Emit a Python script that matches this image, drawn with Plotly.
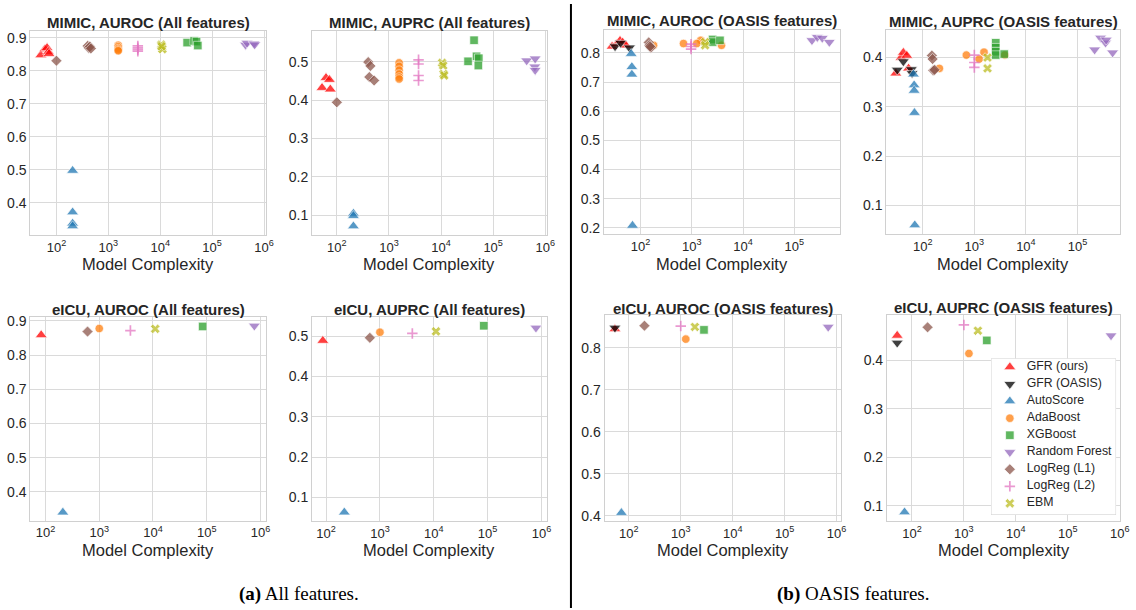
import plotly.graph_objects as go

W, H = 1136, 610

# ---------------- data ----------------
METHODS = ["GFR (ours)", "GFR (OASIS)", "AutoScore", "AdaBoost", "XGBoost",
           "Random Forest", "LogReg (L1)", "LogReg (L2)", "EBM"]
COLORS = ["#ff0000", "#000000", "#1f77b4", "#ff7f0e", "#2ca02c",
          "#9467bd", "#8c564b", "#e377c2", "#bcbd22"]
SYMBOLS = ["triangle-up", "triangle-down", "triangle-up", "circle", "square",
           "triangle-down", "diamond", "cross-thin", "x"]

X_TICKS = [1e2, 1e3, 1e4, 1e5, 1e6]
X_TICK_TEXT = ["10<sup>2</sup>", "10<sup>3</sup>", "10<sup>4</sup>",
               "10<sup>5</sup>", "10<sup>6</sup>"]

mimic_auroc_all = {
    "GFR (ours)": ([50, 60, 66, 70, 72], [0.848, 0.866, 0.870, 0.858, 0.852]),
    "AutoScore": ([205, 205, 205, 205], [0.498, 0.372, 0.338, 0.330]),
    "AdaBoost": ([1550, 1550, 1550, 1550, 1550], [0.878, 0.873, 0.868, 0.864, 0.861]),
    "XGBoost": ([33000, 45000, 50000, 53000], [0.886, 0.891, 0.889, 0.877]),
    "Random Forest": ([440000, 470000, 640000, 660000], [0.879, 0.885, 0.883, 0.880]),
    "LogReg (L1)": ([100, 400, 420, 440, 460], [0.831, 0.876, 0.870, 0.874, 0.868]),
    "LogReg (L2)": ([3700, 3700, 3700, 3700], [0.876, 0.870, 0.865, 0.860]),
    "EBM": ([10500, 10800, 11000, 10600], [0.880, 0.872, 0.866, 0.875]),
}
mimic_auprc_all = {
    "GFR (ours)": ([52, 62, 72, 75], [0.432, 0.458, 0.453, 0.428]),
    "AutoScore": ([208, 208, 208], [0.104, 0.098, 0.071]),
    "AdaBoost": ([1570] * 6, [0.497, 0.488, 0.478, 0.468, 0.460, 0.455]),
    "XGBoost": ([33000, 43000, 48000, 53000, 52000], [0.501, 0.556, 0.514, 0.509, 0.490]),
    "Random Forest": ([440000, 640000, 630000, 640000], [0.503, 0.508, 0.487, 0.478]),
    "LogReg (L1)": ([100, 400, 440, 420, 520], [0.394, 0.499, 0.489, 0.460, 0.451]),
    "LogReg (L2)": ([3700] * 4, [0.505, 0.494, 0.464, 0.451]),
    "EBM": ([10500, 11000, 11200, 11500], [0.497, 0.490, 0.468, 0.464]),
}
mimic_auroc_oasis = {
    "GFR (ours)": ([28, 34, 40, 45, 52], [0.822, 0.830, 0.842, 0.836, 0.826]),
    "GFR (OASIS)": ([32, 41, 61], [0.822, 0.834, 0.818]),
    "AutoScore": ([66, 68, 68, 70], [0.797, 0.752, 0.726, 0.208]),
    "AdaBoost": ([690, 1500, 1250, 3800, 180], [0.832, 0.843, 0.832, 0.826, 0.826]),
    "XGBoost": ([2550, 2550, 3550], [0.846, 0.837, 0.843]),
    "Random Forest": ([220000, 280000, 350000, 480000], [0.843, 0.854, 0.851, 0.837]),
    "LogReg (L1)": ([145, 150, 160, 155], [0.836, 0.826, 0.818, 0.822]),
    "LogReg (L2)": ([970, 970, 970], [0.830, 0.822, 0.813]),
    "EBM": ([1820, 1820], [0.837, 0.826]),
}
mimic_auprc_oasis = {
    "GFR (ours)": ([30, 38, 42, 49, 53], [0.368, 0.400, 0.410, 0.404, 0.378]),
    "GFR (OASIS)": ([32, 42, 60, 62], [0.375, 0.392, 0.376, 0.368]),
    "AutoScore": ([66, 68, 68, 69, 70], [0.366, 0.344, 0.333, 0.288, 0.060]),
    "AdaBoost": ([700, 1240, 1540, 3900, 210], [0.405, 0.397, 0.411, 0.405, 0.378]),
    "XGBoost": ([2600, 2600, 2600, 2600, 3800], [0.430, 0.420, 0.412, 0.405, 0.407]),
    "Random Forest": ([215000, 280000, 350000, 480000, 360000], [0.416, 0.440, 0.430, 0.410, 0.436]),
    "LogReg (L1)": ([150, 155, 160, 170], [0.404, 0.397, 0.374, 0.375]),
    "LogReg (L2)": ([1000, 1000, 1000], [0.405, 0.390, 0.380]),
    "EBM": ([1800, 1800], [0.400, 0.378]),
}
eicu_auroc_all = {
    "GFR (ours)": ([83], [0.859]),
    "AutoScore": ([210], [0.340]),
    "AdaBoost": ([1000], [0.878]),
    "XGBoost": ([84000], [0.884]),
    "Random Forest": ([770000], [0.886]),
    "LogReg (L1)": ([605], [0.869]),
    "LogReg (L2)": ([3800], [0.872]),
    "EBM": ([11000], [0.877]),
}
eicu_auprc_all = {
    "GFR (ours)": ([87], [0.489]),
    "AutoScore": ([218], [0.063]),
    "AdaBoost": ([1000], [0.510]),
    "XGBoost": ([85000], [0.526]),
    "Random Forest": ([790000], [0.521]),
    "LogReg (L1)": ([650], [0.496]),
    "LogReg (L2)": ([4000], [0.507]),
    "EBM": ([11000], [0.512]),
}
eicu_auroc_oasis = {
    "GFR (ours)": ([54], [0.845]),
    "GFR (OASIS)": ([54], [0.848]),
    "AutoScore": ([72], [0.407]),
    "AdaBoost": ([1250], [0.821]),
    "XGBoost": ([2800], [0.843]),
    "Random Forest": ([690000], [0.850]),
    "LogReg (L1)": ([200], [0.853]),
    "LogReg (L2)": ([1000], [0.852]),
    "EBM": ([1870], [0.850]),
}
eicu_auprc_oasis = {
    "GFR (ours)": ([52], [0.451]),
    "GFR (OASIS)": ([52], [0.436]),
    "AutoScore": ([72], [0.0865]),
    "AdaBoost": ([1250], [0.414]),
    "XGBoost": ([2760], [0.441]),
    "Random Forest": ([680000], [0.451]),
    "LogReg (L1)": ([200], [0.468]),
    "LogReg (L2)": ([1000], [0.473]),
    "EBM": ([1860], [0.461]),
}

TITLES = ["MIMIC, AUROC (All features)", "MIMIC, AUPRC (All features)",
          "MIMIC, AUROC (OASIS features)", "MIMIC, AUPRC (OASIS features)",
          "eICU, AUROC (All features)", "eICU, AUPRC (All features)",
          "eICU, AUROC (OASIS features)", "eICU, AUPRC (OASIS features)"]
PANEL_DATA = [mimic_auroc_all, mimic_auprc_all, mimic_auroc_oasis, mimic_auprc_oasis,
              eicu_auroc_all, eicu_auprc_all, eicu_auroc_oasis, eicu_auprc_oasis]
Y_TICKS = [[0.4, 0.5, 0.6, 0.7, 0.8, 0.9], [0.1, 0.2, 0.3, 0.4, 0.5],
           [0.2, 0.3, 0.4, 0.5, 0.6, 0.7, 0.8], [0.1, 0.2, 0.3, 0.4],
           [0.4, 0.5, 0.6, 0.7, 0.8, 0.9], [0.1, 0.2, 0.3, 0.4, 0.5],
           [0.4, 0.5, 0.6, 0.7, 0.8], [0.1, 0.2, 0.3, 0.4]]

# ---------------- layout geometry (pixels) ----------------
BOXES = [(30.7, 268.0, 27.3, 233.3), (314.3, 550.7, 27.3, 233.3),
         (608.3, 846.0, 26.7, 232.3), (892.7, 1127.7, 26.7, 232.3),
         (30.7, 267.7, 316.0, 521.7), (314.3, 550.7, 316.0, 522.3),
         (609.0, 846.7, 314.3, 522.3), (893.3, 1128.3, 314.3, 522.3)]
X_RANGES = [(1.5, 6.04), (1.525, 6.03), (1.29, 5.89), (1.295, 5.82),
            (1.72, 6.1), (1.74, 6.1), (1.536, 6.08), (1.52, 6.012)]
Y_RANGES = [(0.303, 0.921), (0.048, 0.58), (0.179, 0.877), (0.042, 0.455),
            (0.316, 0.912), (0.041, 0.548), (0.387, 0.878), (0.068, 0.493)]
TITLE_Y = [19, 19, 16.5, 17.5, 309, 309, 307.5, 307]
XLABEL_Y = [263, 263, 262.5, 262.5, 551, 551, 551.5, 551.5]
LEGEND_BOX = (998.0, 1124.0, 358.0, 516.0)   # left, right, top, bottom (px)
LEGEND_FIRST, LEGEND_STEP = 8.7, 17.2        # px from box top, px per row
LEGEND_MARK_X, LEGEND_TEXT_X = 19.0, 36.0    # px from box left

FONT = "Liberation Sans, Arial, sans-serif"
TXT = "#262626"
GRID = "#dadada"
FRAME = "#d0d0d0"


def marker_style(m):
    sym = SYMBOLS[m]
    if sym == "cross-thin":
        return dict(symbol=sym, color=COLORS[m], opacity=0.75, size=7.5,
                    line=dict(color=COLORS[m], width=1.7))
    size = 10.5 if sym.startswith("triangle") else 8.5
    return dict(symbol=sym, color=COLORS[m], opacity=0.75, size=size,
                line=dict(color="white", width=0.7))


fig = go.Figure()
layout = dict(width=W, height=H, margin=dict(l=0, r=0, t=0, b=0),
              paper_bgcolor="white", plot_bgcolor="white",
              font=dict(family=FONT, color=TXT, size=13),
              showlegend=False)
annotations = []

for i, (data, title) in enumerate(zip(PANEL_DATA, TITLES)):
    k = "" if i == 0 else str(i + 1)
    x0, x1, y0, y1 = BOXES[i]
    layout["xaxis" + k] = dict(
        domain=[x0 / W, x1 / W], anchor="y" + k, type="log", range=list(X_RANGES[i]),
        tickvals=X_TICKS, ticktext=X_TICK_TEXT, showgrid=True, gridcolor=GRID,
        gridwidth=1, showline=True, mirror=True, linecolor=FRAME, linewidth=1.2,
        ticks="", zeroline=False, tickfont=dict(size=13, color=TXT))
    layout["yaxis" + k] = dict(
        domain=[1 - y1 / H, 1 - y0 / H], anchor="x" + k, range=list(Y_RANGES[i]),
        tickvals=Y_TICKS[i], ticktext=["%.1f" % v for v in Y_TICKS[i]],
        showgrid=True, gridcolor=GRID, gridwidth=1, showline=True, mirror=True,
        linecolor=FRAME, linewidth=1.2, ticks="", zeroline=False,
        tickfont=dict(size=14, color=TXT))
    for m, name in enumerate(METHODS):
        if name not in data:
            continue
        xs, ys = data[name]
        fig.add_trace(go.Scatter(x=xs, y=ys, mode="markers", name=name,
                                 xaxis="x" + k, yaxis="y" + k,
                                 marker=marker_style(m), hoverinfo="x+y+name"))
    xc = (x0 + x1) / 2 / W
    annotations.append(dict(text="<b>%s</b>" % title, x=xc, y=1 - TITLE_Y[i] / H,
                            xref="paper", yref="paper", showarrow=False,
                            xanchor="center", yanchor="middle",
                            font=dict(size=15, family=FONT, color=TXT)))
    annotations.append(dict(text="Model Complexity", x=xc, y=1 - XLABEL_Y[i] / H,
                            xref="paper", yref="paper", showarrow=False,
                            xanchor="center", yanchor="middle",
                            font=dict(size=16.5, family=FONT, color=TXT)))

# ---------------- legend (own small axis so rows can be tight) ----------------
lx0, lx1, ly0, ly1 = LEGEND_BOX
lw, lh = lx1 - lx0, ly1 - ly0
layout["xaxis9"] = dict(domain=[lx0 / W, lx1 / W], anchor="y9", range=[0, lw],
                        visible=False, fixedrange=True)
layout["yaxis9"] = dict(domain=[1 - ly1 / H, 1 - ly0 / H], anchor="x9", range=[lh, 0],
                        visible=False, fixedrange=True)
fig.add_trace(go.Scatter(x=[0, lw, lw, 0, 0], y=[0, 0, lh, lh, 0], mode="lines",
                         fill="toself", fillcolor="white",
                         line=dict(color=FRAME, width=1), xaxis="x9", yaxis="y9",
                         hoverinfo="skip"))
for m, name in enumerate(METHODS):
    row_y = LEGEND_FIRST + LEGEND_STEP * m
    fig.add_trace(go.Scatter(x=[LEGEND_MARK_X], y=[row_y], mode="markers",
                             marker=marker_style(m), xaxis="x9", yaxis="y9",
                             hoverinfo="skip"))
    fig.add_trace(go.Scatter(x=[LEGEND_TEXT_X], y=[row_y], mode="text", text=[name],
                             textposition="middle right",
                             textfont=dict(size=12.3, family=FONT, color=TXT),
                             xaxis="x9", yaxis="y9", hoverinfo="skip"))

SERIF = "Liberation Serif, Times New Roman, serif"
annotations.append(dict(text="<b>(a)</b> All features.", x=301 / W, y=1 - 596 / H,
                        xref="paper", yref="paper", showarrow=False,
                        xanchor="center", yanchor="middle",
                        font=dict(size=19, family=SERIF, color="black")))
annotations.append(dict(text="<b>(b)</b> OASIS features.", x=860 / W, y=1 - 596 / H,
                        xref="paper", yref="paper", showarrow=False,
                        xanchor="center", yanchor="middle",
                        font=dict(size=19, family=SERIF, color="black")))

layout["annotations"] = annotations
layout["shapes"] = [dict(type="line", xref="paper", yref="paper",
                         x0=575 / W, x1=575 / W, y0=0, y1=1,
                         line=dict(color="black", width=2))]

fig.update_layout(**layout)
fig.write_html("out.html")
